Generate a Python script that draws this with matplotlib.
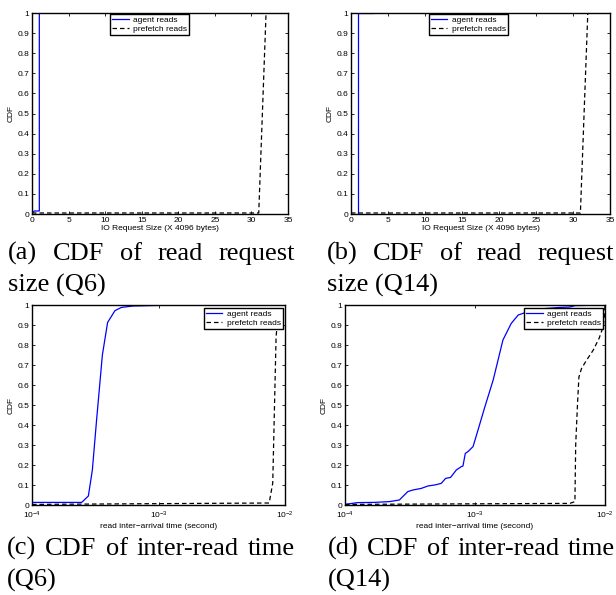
import matplotlib
matplotlib.use("Agg")
import matplotlib.pyplot as plt
from matplotlib.ticker import FormatStrFormatter, NullLocator

# read request size CDFs (x in units of 4096 bytes)
size_q6_agent_x = [0, 0.3, 1, 1, 3]
size_q6_agent_y = [0.005, 0.015, 0.015, 1.0, 1.0]
size_q6_prefetch_x = [0, 31, 32]
size_q6_prefetch_y = [0.005, 0.005, 1.0]

size_q14_agent_x = [1, 1, 3]
size_q14_agent_y = [0.0, 1.0, 1.0]
size_q14_prefetch_x = [0, 31, 32]
size_q14_prefetch_y = [0.005, 0.005, 1.0]

# inter-read time CDFs (seconds)
time_q6_agent_x = [1e-4, 2.47e-4, 2.79e-4, 3.0e-4, 3.24e-4, 3.6e-4, 3.96e-4,
                   4.53e-4, 5.1e-4, 6.3e-4, 1.0e-3, 1e-2]
time_q6_agent_y = [0.013, 0.013, 0.045, 0.175, 0.425, 0.75, 0.913,
                   0.972, 0.988, 0.995, 0.998, 1.0]
time_q6_prefetch_x = [1e-4, 7.5e-3, 8.0e-3, 8.5e-3, 8.7e-3, 9.2e-3, 1e-2]
time_q6_prefetch_y = [0.003, 0.01, 0.11, 0.84, 0.91, 1.0, 1.0]

time_q14_agent_x = [1e-4, 1.25e-4, 1.68e-4, 2.2e-4, 2.62e-4, 3.04e-4, 3.33e-4,
                    3.86e-4, 4.34e-4, 4.89e-4, 5.5e-4, 5.94e-4, 6.49e-4,
                    7.18e-4, 7.85e-4, 8.08e-4, 8.42e-4, 8.83e-4, 9.66e-4,
                    1.055e-3, 1.19e-3, 1.38e-3, 1.64e-3, 1.9e-3, 2.15e-3,
                    2.87e-3, 4.5e-3, 5.37e-3, 5.9e-3, 1e-2]
time_q14_agent_y = [0.003, 0.012, 0.013, 0.017, 0.025, 0.067, 0.075,
                    0.083, 0.095, 0.1, 0.108, 0.133, 0.138,
                    0.175, 0.192, 0.195, 0.258, 0.267, 0.292,
                    0.375, 0.49, 0.625, 0.825, 0.908, 0.95,
                    0.978, 0.988, 0.99, 0.997, 1.0]
time_q14_prefetch_x = [1e-4, 5.37e-3, 5.87e-3, 5.95e-3, 6.15e-3, 6.3e-3, 6.6e-3,
                       7.23e-3, 8.13e-3, 9.0e-3, 9.7e-3, 9.9e-3, 1e-2]
time_q14_prefetch_y = [0.003, 0.008, 0.017, 0.3, 0.51, 0.64, 0.683,
                       0.725, 0.775, 0.833, 0.892, 0.95, 1.0]

series_labels = ["agent reads", "prefetch reads"]
y_ticks = [0, 0.1, 0.2, 0.3, 0.4, 0.5, 0.6, 0.7, 0.8, 0.9, 1]
size_ticks = [0, 5, 10, 15, 20, 25, 30, 35]
time_ticks = [1e-4, 1e-3, 1e-2]

captions = [
    (["(a)", "CDF", "of", "read", "request"], "size (Q6)"),
    (["(b)", "CDF", "of", "read", "request"], "size (Q14)"),
    (["(c)", "CDF", "of", "inter-read", "time"], "(Q6)"),
    (["(d)", "CDF", "of", "inter-read", "time"], "(Q14)"),
]

plt.rcParams["font.family"] = "Liberation Sans"
plt.rcParams["font.size"] = 6
plt.rcParams["mathtext.default"] = "regular"

W, H = 616, 595
fig = plt.figure(figsize=(W / 100, H / 100), dpi=100)


def add_axes_px(left, top, right, bottom):
    return fig.add_axes([left / W, 1 - bottom / H, (right - left) / W, (bottom - top) / H])


def style(ax):
    ax.set_ylim(0, 1)
    ax.set_yticks(y_ticks)
    ax.yaxis.set_major_formatter(FormatStrFormatter("%g"))
    ax.tick_params(direction="in", top=True, right=True, length=2.5, width=0.6, pad=2)
    for sp in ax.spines.values():
        sp.set_linewidth(1.0)
    ax.set_ylabel("CDF", labelpad=2)


def draw(ax, ax_x, ax_y, pf_x, pf_y):
    ax.plot(ax_x, ax_y, color="blue", lw=0.9, label=series_labels[0])
    ax.plot(pf_x, pf_y, color="black", lw=0.9, dashes=(3.6, 2.4), label=series_labels[1])


def legend(ax, anchor, loc):
    leg = ax.legend(loc=loc, bbox_to_anchor=anchor, fancybox=False, framealpha=1,
                    edgecolor="black", fontsize=6, handlelength=2.0, handletextpad=0.5,
                    borderpad=0.25, labelspacing=0.1, borderaxespad=0)
    leg.get_frame().set_linewidth(1.0)


def log_axis(ax):
    ax.set_xscale("log")
    ax.set_xlim(1e-4, 1e-2)
    ax.set_xticks(time_ticks)
    ax.xaxis.set_minor_locator(NullLocator())
    ax.tick_params(axis="x", pad=3.5)
    ax.set_xlabel("read inter\u2212arrival time (second)", labelpad=1)


# (a)
ax = add_axes_px(32, 13, 288, 214)
draw(ax, size_q6_agent_x, size_q6_agent_y, size_q6_prefetch_x, size_q6_prefetch_y)
style(ax)
ax.set_xlim(0, 35)
ax.set_xticks(size_ticks)
ax.set_xlabel("IO Request Size (X 4096 bytes)", labelpad=1)
legend(ax, (0.305, 0.995), "upper left")

# (b)
ax = add_axes_px(351, 13, 610, 214)
draw(ax, size_q14_agent_x, size_q14_agent_y, size_q14_prefetch_x, size_q14_prefetch_y)
style(ax)
ax.set_xlim(0, 35)
ax.set_xticks(size_ticks)
ax.set_xlabel("IO Request Size (X 4096 bytes)", labelpad=1)
legend(ax, (0.30, 0.995), "upper left")

# (c)
ax = add_axes_px(32, 305, 285, 505)
draw(ax, time_q6_agent_x, time_q6_agent_y, time_q6_prefetch_x, time_q6_prefetch_y)
style(ax)
log_axis(ax)
legend(ax, (0.991, 0.985), "upper right")

# (d)
ax = add_axes_px(345, 305, 605, 505)
draw(ax, time_q14_agent_x, time_q14_agent_y, time_q14_prefetch_x, time_q14_prefetch_y)
style(ax)
log_axis(ax)
legend(ax, (0.992, 0.985), "upper right")

# captions, first line justified between the given pixel edges
renderer = fig.canvas.get_renderer()
CAP_SIZE = 19


def justify(words, x0, x1, y):
    texts = [fig.text(0, 0, w, family="Liberation Serif", fontsize=CAP_SIZE, va="baseline")
             for w in words]
    widths = [t.get_window_extent(renderer).width for t in texts]
    gap = (x1 - x0 - sum(widths)) / (len(words) - 1)
    x = x0
    for t, w in zip(texts, widths):
        t.set_position((x / W, 1 - y / H))
        x += w + gap


cap_pos = [(8, 295, 260, 292), (327, 614, 260, 292), (7, 295, 555, 587), (328, 615, 555, 587)]
for (words, second), (x0, x1, y1, y2) in zip(captions, cap_pos):
    justify(words, x0, x1, y1)
    fig.text(x0 / W, 1 - y2 / H, second, family="Liberation Serif", fontsize=CAP_SIZE,
             va="baseline")

fig.savefig("out.png", dpi=100)
